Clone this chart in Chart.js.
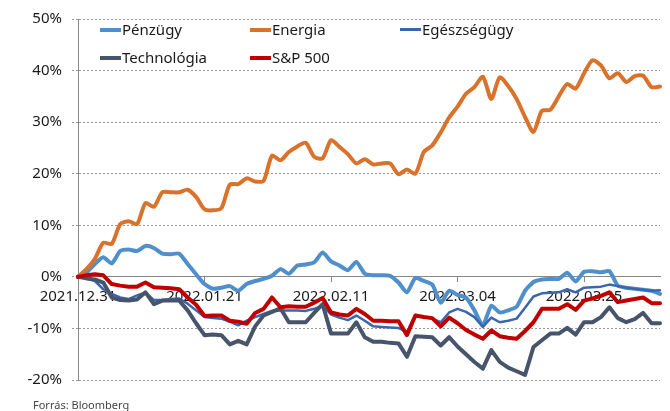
<!DOCTYPE html>
<html>
<head>
<meta charset="utf-8">
<script src="https://cdn.jsdelivr.net/npm/chart.js@4.4.1/dist/chart.umd.min.js"></script>
<style>
	body { margin: 0; background: #fff; }
	#wrap { position: relative; width: 670px; height: 411px; font-family: 'Noto Sans', sans-serif; color: #1a1a1a; }
	.lg { position: absolute; font-size: 15px; line-height: 18px; white-space: nowrap; }
	.lg i { display: inline-block; width: 21px; height: 4px; vertical-align: middle; margin-right: 1px; margin-top: -2px; }
	#src { position: absolute; left: 33px; top: 397px; font-size: 11px; color: #444; }
</style>
</head>
<body>
<div id="wrap">
	<canvas id="line-chart" width="670" height="411"></canvas>
	<div class="lg" style="left:100px;top:20px"><i style="background:#4f8fcc"></i>Pénzügy</div>
	<div class="lg" style="left:250px;top:20px"><i style="background:#d9722b"></i>Energia</div>
	<div class="lg" style="left:400px;top:20px"><i style="background:#3a66ad;height:3px"></i>Egészségügy</div>
	<div class="lg" style="left:100px;top:48px"><i style="background:#46556b"></i>Technológia</div>
	<div class="lg" style="left:250px;top:48px"><i style="background:#c00000"></i>S&amp;P 500</div>
	<div id="src">Forrás: Bloomberg</div>
</div>
<script>
var dates = [
	'2021.12.31',
	'2022.01.03', '2022.01.04', '2022.01.05', '2022.01.06', '2022.01.07',
	'2022.01.10', '2022.01.11', '2022.01.12', '2022.01.13', '2022.01.14',
	'2022.01.17', '2022.01.18', '2022.01.19', '2022.01.20', '2022.01.21',
	'2022.01.24', '2022.01.25', '2022.01.26', '2022.01.27', '2022.01.28',
	'2022.01.31', '2022.02.01', '2022.02.02', '2022.02.03', '2022.02.04',
	'2022.02.07', '2022.02.08', '2022.02.09', '2022.02.10', '2022.02.11',
	'2022.02.14', '2022.02.15', '2022.02.16', '2022.02.17', '2022.02.18',
	'2022.02.21', '2022.02.22', '2022.02.23', '2022.02.24', '2022.02.25',
	'2022.02.28', '2022.03.01', '2022.03.02', '2022.03.03', '2022.03.04',
	'2022.03.07', '2022.03.08', '2022.03.09', '2022.03.10', '2022.03.11',
	'2022.03.14', '2022.03.15', '2022.03.16', '2022.03.17', '2022.03.18',
	'2022.03.21', '2022.03.22', '2022.03.23', '2022.03.24', '2022.03.25',
	'2022.03.28', '2022.03.29', '2022.03.30', '2022.03.31', '2022.04.01',
	'2022.04.04', '2022.04.05', '2022.04.06', '2022.04.07'
];
var xTickLabels = ['2021.12.31', '2022.01.21', '2022.02.11', '2022.03.04', '2022.03.25'];
var yTicks = [-20, -10, 0, 10, 20, 30, 40, 50];

var penzugy = [0, 0.8, 2.5, 3.8, 2.6, 5.0, 5.3, 5.0, 6.0, 5.6,
	4.5, 4.4, 4.5, 2.5, 0.5, -1.4, -2.3, -2.1, -1.8, -2.7,
	-1.4, -0.8, -0.4, 0.2, 1.5, 0.6, 2.2, 2.4, 2.8, 4.7,
	3.0, 2.2, 1.3, 2.9, 0.6, 0.3, 0.3, 0.2, -1.1, -3.0,
	-0.2, -0.8, -1.5, -5.0, -2.7, -3.5, -4.0, -6.5, -9.4, -5.6,
	-6.9, -6.5, -5.8, -2.7, -1.0, -0.5, -0.4, -0.4, 0.8, -0.9,
	1.0, 1.1, 0.9, 1.1, -1.7, -2.1, -2.3, -2.5, -2.7, -3.3];
var energia = [0, 1.5, 3.5, 6.6, 6.4, 10.2, 10.8, 10.2, 14.3, 13.6,
	16.4, 16.4, 16.4, 16.9, 15.5, 13.1, 12.9, 13.3, 17.9, 18.0,
	19.1, 18.5, 18.6, 23.5, 22.6, 24.2, 25.3, 26.0, 23.3, 23.0,
	26.5, 25.2, 23.8, 22.0, 22.8, 21.8, 22.0, 22.0, 19.9, 20.8,
	20.0, 24.2, 25.5, 28.0, 30.9, 33.0, 35.5, 36.8, 38.8, 34.5,
	38.7, 37.0, 34.5, 31.0, 28.1, 32.2, 32.4, 35.0, 37.4, 36.5,
	39.5, 42.0, 41.0, 38.5, 39.5, 37.8, 38.9, 39.0, 36.8, 36.9];
var egeszsegugy = [0, -0.3, -0.8, -2.4, -3.3, -4.0, -4.3, -3.6, -3.0, -4.5,
	-4.5, -4.3, -4.2, -5.2, -6.5, -7.8, -8.0, -8.1, -8.7, -9.4,
	-8.5, -7.8, -7.2, -6.6, -6.5, -6.5, -6.5, -6.6, -6.2, -5.6,
	-7.3, -7.9, -8.4, -7.5, -8.5, -9.6, -9.7, -9.8, -9.9, -10.7,
	-7.4, -7.8, -8.1, -8.8, -6.9, -6.2, -6.8, -7.8, -9.7, -7.9,
	-8.8, -8.5, -8.1, -6.0, -3.8, -3.2, -3.1, -3.0, -2.4, -3.0,
	-2.1, -2.0, -1.9, -1.5, -1.8, -2.1, -2.3, -2.5, -2.7, -2.6];
var technologia = [0, -0.3, -0.5, -1.1, -4.0, -4.5, -4.6, -4.4, -3.0, -5.3,
	-4.6, -4.6, -4.6, -6.5, -9.0, -11.3, -11.2, -11.3, -13.1, -12.4,
	-13.1, -9.6, -7.5, -6.8, -6.1, -8.8, -8.8, -8.8, -7.0, -5.3,
	-11.0, -11.0, -11.0, -8.8, -11.7, -12.6, -12.6, -12.8, -12.9, -15.5,
	-11.5, -11.6, -11.7, -13.3, -11.7, -13.5, -15.0, -16.5, -17.8, -14.2,
	-16.5, -17.6, -18.3, -19.0, -13.6, -12.3, -11.0, -11.0, -9.9, -11.2,
	-8.8, -8.8, -7.8, -5.9, -8.0, -8.8, -8.2, -7.0, -9.0, -9.0];
var sp500 = [0, 0.3, 0.5, 0.3, -1.4, -1.7, -1.9, -1.9, -1.1, -2.0,
	-2.1, -2.2, -2.4, -4.0, -5.4, -7.6, -7.5, -7.5, -8.5, -8.7,
	-9.1, -7.0, -6.2, -4.0, -5.9, -5.7, -5.8, -5.8, -5.0, -4.1,
	-6.9, -7.3, -7.5, -6.2, -7.2, -8.5, -8.5, -8.6, -8.6, -11.3,
	-7.5, -7.8, -8.0, -9.6, -7.9, -9.0, -10.3, -11.2, -12.0, -10.4,
	-11.5, -11.8, -12.0, -10.5, -8.8, -6.2, -6.2, -6.2, -5.3, -6.4,
	-4.6, -4.2, -3.7, -3.0, -4.9, -4.6, -4.3, -4.0, -5.1, -5.1];

var lineChart;

var handleChart = function() {
	var lineChartData = {
		labels: dates,
		datasets: [{
			label: 'Pénzügy',
			data: penzugy,
			borderColor: '#4f8fcc',
			borderWidth: 4,
			tension: 0.2,
			order: 4
		}, {
			label: 'Energia',
			data: energia,
			borderColor: '#d9722b',
			borderWidth: 4,
			tension: 0.25,
			order: 3
		}, {
			label: 'Egészségügy',
			data: egeszsegugy,
			borderColor: '#3a66ad',
			borderWidth: 2.5,
			tension: 0,
			order: 2
		}, {
			label: 'Technológia',
			data: technologia,
			borderColor: '#46556b',
			borderWidth: 4,
			tension: 0,
			order: 1
		}, {
			label: 'S&P 500',
			data: sp500,
			borderColor: '#c00000',
			borderWidth: 4,
			tension: 0,
			order: 0
		}]
	};

	var ctx = document.getElementById('line-chart').getContext('2d');
	lineChart = new Chart(ctx, {
		type: 'line',
		data: lineChartData,
		options: {
			responsive: false,
			animation: false,
			layout: { padding: { left: 0, right: 10, top: 16, bottom: 31 } },
			elements: {
				point: { radius: 0 },
				line: { fill: false, borderCapStyle: 'round', borderJoinStyle: 'round' }
			},
			plugins: { legend: { display: false }, tooltip: { enabled: false } },
			scales: {
				x: {
					position: { y: 0 },
					offset: false,
					grid: { drawOnChartArea: false, drawTicks: true, tickLength: 5, color: '#888' },
					border: { color: '#888', width: 1 },
					ticks: {
						autoSkip: false,
						maxRotation: 0,
						padding: 6,
						color: '#1a1a1a',
						font: { family: 'Noto Sans', size: 15 },
						callback: function(v, i) {
							return xTickLabels.indexOf(dates[i]) > -1 ? dates[i] : null;
						}
					}
				},
				y: {
					min: yTicks[0],
					max: yTicks[yTicks.length - 1],
					afterFit: function(scale) { scale.width = 78; },
					afterBuildTicks: function(scale) {
						scale.ticks = yTicks.map(function(v) { return { value: v }; });
					},
					grid: { color: '#999', tickLength: 6, tickBorderDash: [2, 2] },
					border: { color: '#888', width: 1, dash: [2, 2] },
					ticks: {
						padding: 10,
						color: '#1a1a1a',
						font: { family: 'Noto Sans', size: 15 },
						callback: function(v) { return v + '%'; }
					}
				}
			}
		}
	});
};

handleChart();
</script>
</body>
</html>
